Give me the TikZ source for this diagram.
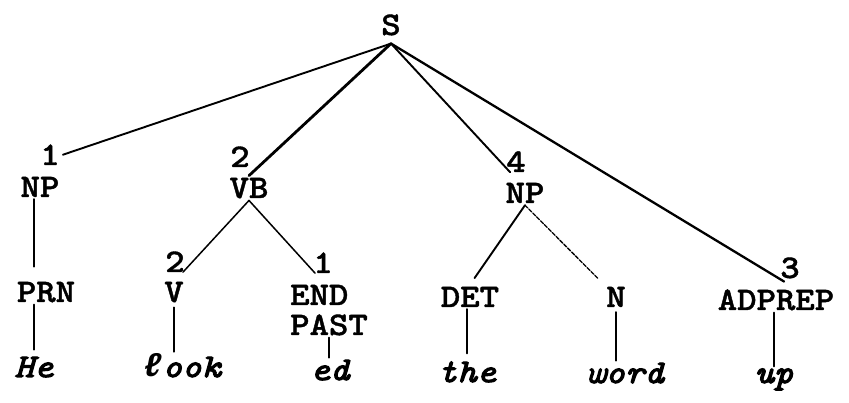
\documentclass[tikz,border=0pt]{standalone}
\usepackage{fontspec}
\newfontfamily\typer{lmmonolt10-bold.otf}[FakeStretch=1.12, FakeBold=1.2]
\newfontfamily\typerit{lmmono10-italic.otf}[FakeStretch=1.12, FakeBold=3.5]
\newfontfamily\ellfont{Liberation Mono}
\newcommand{\scriptell}{{\ellfont\bfseries\itshape ℓ}}
\tikzset{
  lbl/.style={font=\typer\fontsize{33}{40}\selectfont, inner sep=2pt, anchor=base},
  num/.style={lbl, inner sep=0pt},
  leaf/.style={font=\typerit\fontsize{33}{40}\selectfont, inner sep=2pt, anchor=base},
  branch/.style={line width=1.9pt, line cap=round},
  thinbranch/.style={line width=1.5pt, line cap=round},
  faint/.style={line width=1.3pt, line cap=round, dash pattern=on 4pt off 1.5pt}
}
\begin{document}
\begin{tikzpicture}[x=1pt, y=-1pt]
  \useasboundingbox (0,0) rectangle (849,403);
  % category labels
  \node[lbl] (S) at (391,35) {S};
  \coordinate (apex) at ([yshift=-6pt]S.south);
  \node[num] (n1) at (50,165) {1};
  \node[lbl] (NPa) at (40,197) {NP};
  \node[num] (n2) at (240,167) {2};
  \node[lbl] (VB) at (249,198) {VB};
  \node[num] (n4) at (516,172) {4};
  \node[lbl] (NPb) at (525,203) {NP};
  \node[num] (n3) at (790,278) {3};
  \node[lbl] (ADPREP) at (776,310) {ADPREP};
  \node[lbl] (PRN) at (46,302) {PRN};
  \node[num] (n2b) at (175,272) {2};
  \node[lbl] (V) at (174,302) {V};
  \node[num] (n1b) at (323,273) {1};
  \node[lbl, anchor=base west] (END) at (288,305) {END};
  \node[lbl, anchor=base west] (PAST) at (288,335) {PAST};
  \node[lbl] (DET) at (470,307) {DET};
  \node[lbl] (N) at (616,307) {N};
  % words
  \node[leaf] (He) at (34,377) {He};
  \node[leaf] (look) at (182,377) {\scriptell ook};
  \node[leaf] (ed) at (330,380) {ed};
  \node[leaf] (the) at (467,382) {the};
  \node[leaf] (wd) at (625,383) {word};
  \node[leaf] (up) at (774,383) {up};

  % branches from S
  \draw[branch] (apex) -- ([xshift=3pt]n1.east);
  \draw[branch, line width=2.8pt] (apex) -- (VB.north);
  \draw[branch] (apex) -- ([xshift=4pt]n4.south west);
  \draw[branch, line width=2.3pt] (apex) -- ([xshift=4pt,yshift=-3pt]n3.south west);

  % NP (1) branch
  \draw[branch] (NPa.south -| He.north) -- ([yshift=13pt]PRN.north -| He.north);
  \draw[branch] (PRN.south -| He.north) -- ([yshift=5pt]He.north);

  % VB branch
  \draw[thinbranch] (VB.south) -- ([xshift=-2pt]n2b.south east);
  \draw[thinbranch] (VB.south) -- ([xshift=2pt]n1b.south west);
  \draw[branch, shorten <=3pt] (V.south) -- (V.south |- look.north);
  \draw[branch] (PAST.south) -- (PAST.south |- ed.north);

  % NP (4) branch
  \draw[branch, shorten >=8pt] (NPb.south) -- (DET.north);
  \draw[faint, shorten >=8pt] (NPb.south) -- (N.north west);
  \draw[branch, shorten >=6pt] (the.north |- DET.south) -- (the.north);
  \draw[branch, shorten <=3pt] (N.south) -- (N.south |- wd.north);

  % ADPREP branch
  \draw[branch] (ADPREP.south -| up.north) -- (up.north);
\end{tikzpicture}
\end{document}
